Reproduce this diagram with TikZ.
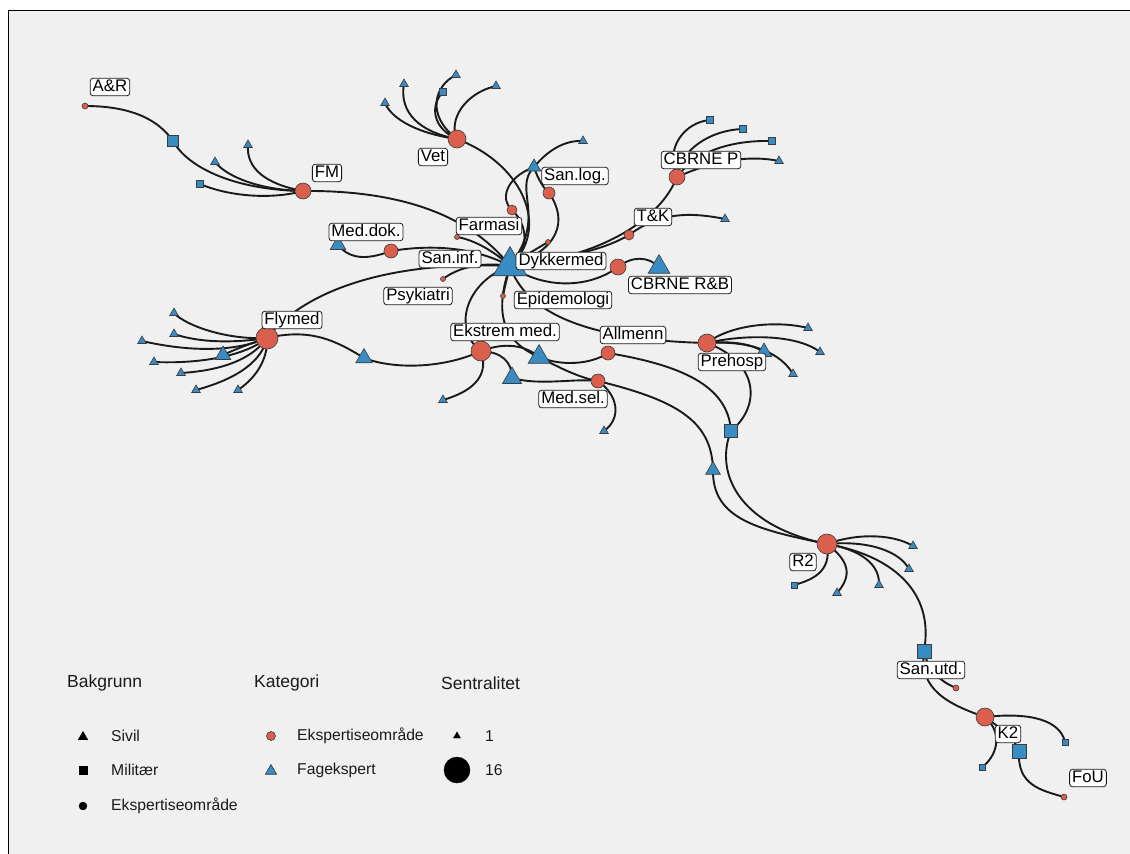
\documentclass[tikz,border=0pt]{standalone}
\usepackage{fontspec}
\setmainfont{Liberation Sans}
\usetikzlibrary{shapes.geometric}
\definecolor{nodered}{RGB}{218,95,76}
\definecolor{nodeblue}{RGB}{56,140,196}
\definecolor{panelgray}{RGB}{240,240,240}
\definecolor{ink}{RGB}{26,26,26}
\pgfdeclarelayer{back}
\pgfdeclarelayer{edges}
\pgfsetlayers{back,edges,main}
\tikzset{
  ered/.style={circle, fill=nodered, draw=ink!85, line width=0.6pt, inner sep=0pt},
  btri/.style={regular polygon, regular polygon sides=3, fill=nodeblue, draw=ink!85, line width=0.6pt, inner sep=0pt},
  bsq/.style={rectangle, fill=nodeblue, draw=ink!85, line width=0.6pt, inner sep=0pt},
  lbl/.style={rectangle, rounded corners=3pt, fill=white, draw=ink, line width=0.8pt,
    font=\fontsize{16.8}{18}\selectfont, text=black, inner xsep=2.5pt, inner ysep=1pt,
    text height=12pt, text depth=3.6pt},
  edge/.style={draw=ink, line width=1.9pt},
  legtitle/.style={anchor=west, font=\fontsize{17.5}{19}\selectfont, text=ink, inner sep=0pt},
  legtext/.style={anchor=west, font=\fontsize{15.7}{18}\selectfont, text=ink, inner sep=0pt},
  legsym/.style={fill=black, draw=black, inner sep=0pt},
}
\begin{document}
\begin{tikzpicture}[x=1pt, y=-1pt]
\useasboundingbox (0,0) rectangle (1130,854);
\begin{pgfonlayer}{back}
  \fill[white] (0,0) rectangle (1130,854);
  \fill[panelgray] (8,10) rectangle (1130,854);
  \draw[black, line width=1pt] (8,854) -- (8,10) -- (1130,10);
\end{pgfonlayer}

% ---------- nodes ----------
% central hub
\node[btri, minimum size=39pt] (hub) at (510,266) {};
% upper left branch
\node[ered, minimum size=6pt] (ar) at (85,106) {};
\node[bsq, minimum size=11pt] (arsq) at (173,141) {};
\node[btri, minimum size=10pt] (fmt1) at (215,162) {};
\node[btri, minimum size=10pt] (fmt2) at (248,145) {};
\node[bsq, minimum size=7pt] (fms1) at (200,184) {};
\node[ered, minimum size=16pt] (fm) at (303,191) {};
\node[btri, minimum size=18pt] (meddoktri) at (338,245) {};
\node[ered, minimum size=14pt] (meddok) at (391,251) {};
\node[ered, minimum size=5pt] (farm) at (457,237) {};
\node[ered, minimum size=5pt] (psyk) at (443,279) {};
\node[ered, minimum size=5pt] (epid) at (503,296) {};
\node[ered, minimum size=5pt] (dykk) at (548,242) {};
% Vet
\node[ered, minimum size=18pt] (vet) at (457,139) {};
\node[btri, minimum size=10pt] (v1) at (385,103) {};
\node[btri, minimum size=10pt] (v2) at (404,84) {};
\node[bsq, minimum size=7pt] (vsq) at (443,92) {};
\node[btri, minimum size=10pt] (v3) at (456,75) {};
\node[btri, minimum size=10pt] (v4) at (496,86) {};
% San.log.
\node[btri, minimum size=16pt] (sanlogt) at (534,167) {};
\node[ered, minimum size=12pt] (sanlog) at (549,193) {};
\node[ered, minimum size=10pt] (r512) at (512,210) {};
\node[btri, minimum size=10pt] (sanloleaf) at (583,141) {};
% CBRNE
\node[ered, minimum size=16pt] (dkr) at (618,267) {};
\node[btri, minimum size=25pt] (cbrnerb) at (659,267) {};
\node[ered, minimum size=10pt] (tk) at (629,235) {};
\node[btri, minimum size=10pt] (tkleaf) at (725,219) {};
\node[ered, minimum size=16pt] (cbrnep) at (677,177) {};
\node[bsq, minimum size=7pt] (cp1) at (710,120) {};
\node[bsq, minimum size=7pt] (cp2) at (743,129) {};
\node[bsq, minimum size=7pt] (cp3) at (772,141) {};
\node[btri, minimum size=10pt] (cp4) at (779,161) {};
% Flymed
\node[ered, minimum size=22pt] (flymed) at (267,338) {};
\node[btri, minimum size=18pt] (flytri) at (223,355) {};
\node[btri, minimum size=10pt] (fl1) at (174,313) {};
\node[btri, minimum size=10pt] (fl2) at (174,334) {};
\node[btri, minimum size=10pt] (fl3) at (142,341) {};
\node[btri, minimum size=10pt] (fl4) at (154,362) {};
\node[btri, minimum size=10pt] (fl5) at (181,373) {};
\node[btri, minimum size=10pt] (fl6) at (196,390) {};
\node[btri, minimum size=10pt] (fl7) at (238,390) {};
\node[btri, minimum size=19pt] (tri364) at (364,358) {};
% middle cluster
\node[ered, minimum size=20pt] (ekstrem) at (481,351) {};
\node[btri, minimum size=25pt] (tri539) at (539,357) {};
\node[btri, minimum size=22pt] (tri512) at (512,378) {};
\node[btri, minimum size=10pt] (leaf443) at (443,400) {};
\node[ered, minimum size=14pt] (allmenn) at (608,353) {};
\node[ered, minimum size=14pt] (medsel) at (598,381) {};
\node[btri, minimum size=10pt] (leaf604) at (604,431) {};
% Prehosp
\node[ered, minimum size=18pt] (prehosp) at (707,343) {};
\node[btri, minimum size=18pt] (pretri) at (764,352) {};
\node[btri, minimum size=10pt] (pl1) at (808,328) {};
\node[btri, minimum size=10pt] (pl2) at (820,352) {};
\node[btri, minimum size=10pt] (pl3) at (793,374) {};
\node[bsq, minimum size=13pt] (sq731) at (731,431) {};
\node[btri, minimum size=17pt] (tri713) at (713,470) {};
% R2
\node[ered, minimum size=20pt] (r2) at (827,544) {};
\node[btri, minimum size=10pt] (r2l1) at (913,546) {};
\node[btri, minimum size=10pt] (r2l2) at (909,569) {};
\node[btri, minimum size=10pt] (r2l3) at (879,585) {};
\node[btri, minimum size=10pt] (r2l4) at (837,593) {};
\node[bsq, minimum size=6pt] (r2l5) at (794,585) {};
% lower right
\node[bsq, minimum size=14pt] (sanutd) at (924,651) {};
\node[ered, minimum size=6pt] (sured) at (956,688) {};
\node[ered, minimum size=18pt] (k2) at (985,717) {};
\node[bsq, minimum size=14pt] (k2sq) at (1019,751) {};
\node[bsq, minimum size=6pt] (k2l1) at (1065,742) {};
\node[bsq, minimum size=6pt] (k2l2) at (982,767) {};
\node[ered, minimum size=6pt] (fou) at (1064,797) {};

% ---------- connectors ----------
\begin{pgfonlayer}{edges}
% upper left
\draw[edge] (ar.center) .. controls (135,106) and (160,122) .. (arsq.center);
\draw[edge] (arsq.center) .. controls (188,168) and (235,190) .. (fm.center);
\draw[edge] (fmt1.center) .. controls (228,178) and (262,190) .. (fm.center);
\draw[edge] (fmt2.center) .. controls (246,168) and (265,184) .. (fm.center);
\draw[edge] (fms1.center) .. controls (228,196) and (270,200) .. (fm.center);
\draw[edge] (fm.center) .. controls (400,190) and (470,215) .. (hub.center);
\draw[edge] (meddoktri.center) .. controls (352,262) and (372,258) .. (meddok.center);
\draw[edge] (meddok.center) .. controls (440,243) and (480,250) .. (hub.center);
\draw[edge] (farm.center) .. controls (475,240) and (495,252) .. (hub.center);
\draw[edge] (psyk.center) .. controls (460,266) and (485,262) .. (hub.center);
\draw[edge] (epid.center) .. controls (505,285) and (508,275) .. (hub.center);
\draw[edge] (dykk.center) .. controls (535,250) and (520,258) .. (hub.center);
\draw[edge] (flymed.center) .. controls (300,295) and (380,260) .. (hub.center);
% Vet
\draw[edge] (vet.center) .. controls (525,165) and (550,230) .. (hub.center);
\draw[edge] (v1.center) .. controls (392,120) and (420,134) .. (vet.center);
\draw[edge] (v2.center) .. controls (400,105) and (410,130) .. (vet.center);
\draw[edge] (vsq.center) .. controls (430,105) and (432,128) .. (vet.center);
\draw[edge] (v3.center) .. controls (435,85) and (425,115) .. (vet.center);
\draw[edge] (v4.center) .. controls (465,93) and (448,120) .. (vet.center);
% San.log.
\draw[edge] (sanlogt.center) .. controls (548,150) and (565,140) .. (sanloleaf.center);
\draw[edge] (sanlogt.center) .. controls (538,180) and (545,190) .. (sanlog.center);
\draw[edge] (sanlogt.center) .. controls (505,178) and (500,200) .. (r512.center);
\draw[edge] (r512.center) .. controls (528,225) and (530,250) .. (hub.center);
\draw[edge] (sanlogt.center) .. controls (512,190) and (548,215) .. (hub.center);
\draw[edge] (sanlog.center) .. controls (568,220) and (560,250) .. (hub.center);
% CBRNE
\draw[edge] (hub.center) .. controls (545,290) and (590,288) .. (dkr.center);
\draw[edge] (dkr.center) .. controls (632,256) and (648,256) .. (cbrnerb.center);
\draw[edge] (tk.center) .. controls (600,252) and (560,258) .. (hub.center);
\draw[edge] (cbrnep.center) .. controls (660,220) and (600,258) .. (hub.center);
\draw[edge] (tk.center) .. controls (660,212) and (690,212) .. (tkleaf.center);
\draw[edge] (cbrnep.center) .. controls (664,148) and (685,122) .. (cp1.center);
\draw[edge] (cbrnep.center) .. controls (680,150) and (710,130) .. (cp2.center);
\draw[edge] (cbrnep.center) .. controls (695,152) and (730,140) .. (cp3.center);
\draw[edge] (cbrnep.center) .. controls (715,160) and (750,155) .. (cp4.center);
% Flymed
\draw[edge] (fl1.center) .. controls (185,325) and (225,340) .. (flymed.center);
\draw[edge] (fl2.center) .. controls (200,343) and (235,343) .. (flymed.center);
\draw[edge] (fl3.center) .. controls (190,352) and (235,352) .. (flymed.center);
\draw[edge] (fl4.center) .. controls (200,364) and (245,356) .. (flymed.center);
\draw[edge] (fl5.center) .. controls (230,370) and (255,355) .. (flymed.center);
\draw[edge] (fl6.center) .. controls (240,378) and (262,360) .. (flymed.center);
\draw[edge] (fl7.center) .. controls (260,375) and (268,355) .. (flymed.center);
\draw[edge] (flytri.center) .. controls (238,348) and (255,342) .. (flymed.center);
\draw[edge] (flymed.center) .. controls (310,328) and (335,340) .. (tri364.center);
\draw[edge] (tri364.center) .. controls (395,370) and (445,368) .. (ekstrem.center);
% middle cluster
\draw[edge] (hub.center) .. controls (465,282) and (452,330) .. (ekstrem.center);
\draw[edge] (ekstrem.center) .. controls (505,342) and (525,345) .. (tri539.center);
\draw[edge] (tri539.center) .. controls (560,366) and (590,365) .. (allmenn.center);
\draw[edge] (ekstrem.center) .. controls (502,352) and (512,362) .. (tri512.center);
\draw[edge] (tri512.center) .. controls (540,386) and (575,378) .. (medsel.center);
\draw[edge] (ekstrem.center) .. controls (490,378) and (470,392) .. (leaf443.center);
\draw[edge] (medsel.center) .. controls (618,395) and (622,418) .. (leaf604.center);
\draw[edge] (hub.center) .. controls (495,310) and (500,340) .. (tri539.center);
\draw[edge] (tri539.center) .. controls (560,368) and (580,378) .. (medsel.center);
\draw[edge] (hub.center) .. controls (525,310) and (580,340) .. (prehosp.center);
\draw[edge] (allmenn.center) .. controls (680,365) and (728,385) .. (sq731.center);
\draw[edge] (medsel.center) .. controls (675,400) and (712,420) .. (tri713.center);
% Prehosp
\draw[edge] (prehosp.center) .. controls (758,362) and (762,405) .. (sq731.center);
\draw[edge] (prehosp.center) .. controls (730,325) and (775,320) .. (pl1.center);
\draw[edge] (prehosp.center) .. controls (740,335) and (795,333) .. (pl2.center);
\draw[edge] (prehosp.center) .. controls (730,341) and (750,343) .. (pretri.center);
\draw[edge] (prehosp.center) .. controls (755,340) and (782,355) .. (pl3.center);
% R2
\draw[edge] (sq731.center) .. controls (715,470) and (735,525) .. (r2.center);
\draw[edge] (tri713.center) .. controls (712,520) and (760,530) .. (r2.center);
\draw[edge] (r2.center) .. controls (860,532) and (895,535) .. (r2l1.center);
\draw[edge] (r2.center) .. controls (870,540) and (900,552) .. (r2l2.center);
\draw[edge] (r2.center) .. controls (862,550) and (880,565) .. (r2l3.center);
\draw[edge] (r2.center) .. controls (855,565) and (848,580) .. (r2l4.center);
\draw[edge] (r2.center) .. controls (832,572) and (812,580) .. (r2l5.center);
\draw[edge] (r2.center) .. controls (890,555) and (935,590) .. (sanutd.center);
% lower right
\draw[edge] (sanutd.center) .. controls (918,690) and (950,705) .. (k2.center);
\draw[edge] (sanutd.center) .. controls (928,672) and (942,682) .. (sured.center);
\draw[edge] (k2.center) .. controls (1030,712) and (1060,720) .. (k2l1.center);
\draw[edge] (k2.center) .. controls (1000,728) and (1015,738) .. (k2sq.center);
\draw[edge] (k2.center) .. controls (1005,735) and (995,758) .. (k2l2.center);
\draw[edge] (k2sq.center) .. controls (1017,785) and (1040,790) .. (fou.center);
\end{pgfonlayer}

% ---------- labels ----------
\node[lbl] (tAR) at (110,87) {A\&R};
\node[lbl] (tFM) at (327,173) {FM};
\node[lbl] (tVet) at (433,157) {Vet};
\node[lbl] (tMeddok) at (366,232) {Med.dok.};
\node[lbl] (tFarm) at (489,226) {Farmasi};
\node[lbl] (tSaninf) at (450,259) {San.inf.};
\node[lbl] (tPsyk) at (418,296) {Psykiatri};
\node[lbl] (tDykk) at (561,261) {Dykkermed};
\node[lbl] (tSanlog) at (575,176) {San.log.};
\node[lbl] (tTK) at (653,217) {T\&K};
\node[lbl] (tCbrneP) at (701,160) {CBRNE P};
\node[lbl] (tCbrneRB) at (680,285) {CBRNE R\&B};
\node[lbl] (tEpid) at (563,300) {Epidemologi};
\node[lbl] (tFlymed) at (292,320) {Flymed};
\node[lbl] (tEkstrem) at (505,332) {Ekstrem med.};
\node[lbl] (tAllmenn) at (633,335) {Allmenn};
\node[lbl] (tMedsel) at (573,399) {Med.sel.};
\node[lbl] (tPrehosp) at (732,362) {Prehosp};
\node[lbl] (tR2) at (803,562) {R2};
\node[lbl] (tSanutd) at (931,670) {San.utd.};
\node[lbl] (tK2) at (1008,734) {K2};
\node[lbl] (tFoU) at (1088,778) {FoU};

% ---------- legend ----------
\node[legtitle] (lgB) at (67,683) {Bakgrunn};
\node[legtitle] (lgK) at (254,683) {Kategori};
\node[legtitle] (lgS) at (441,683) {Sentralitet};

\node[legsym, regular polygon, regular polygon sides=3, minimum size=11pt] (lsA) at (83,737) {};
\node[legtext] (ltA) at (111,736) {Sivil};
\node[legsym, rectangle, minimum size=8pt] (lsB) at (83,770) {};
\node[legtext] (ltB) at (111,770) {Militær};
\node[legsym, circle, minimum size=8pt] (lsC) at (83,806) {};
\node[legtext] (ltC) at (111,806) {Ekspertiseområde};

\node[ered, minimum size=9pt] (lsD) at (271,736) {};
\node[legtext] (ltD) at (297,736) {Ekspertiseområde};
\node[btri, minimum size=13pt] (lsE) at (271,771) {};
\node[legtext] (ltE) at (297,770) {Fagekspert};

\node[legsym, regular polygon, regular polygon sides=3, minimum size=8pt] (lsF) at (457,736) {};
\node[legtext] (ltF) at (485,736) {1};
\node[legsym, circle, minimum size=26pt] (lsG) at (457,770) {};
\node[legtext] (ltG) at (485,770) {16};
\end{tikzpicture}
\end{document}
